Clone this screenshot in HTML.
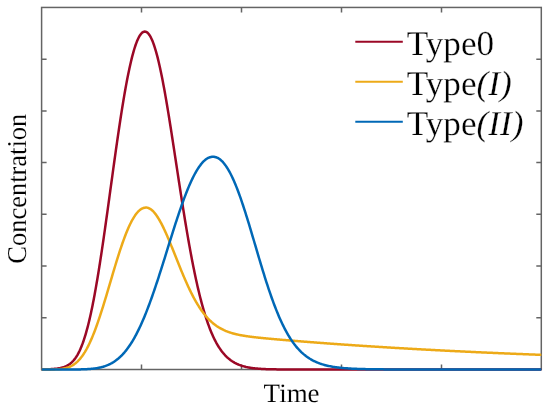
<!DOCTYPE html>
<html><head><meta charset="utf-8"><style>
html,body{margin:0;padding:0;background:#fff;}
body{width:550px;height:408px;overflow:hidden;position:relative;}
svg{position:absolute;left:0;top:0;}
text{font-family:"Liberation Serif",serif;fill:#000;text-rendering:geometricPrecision;stroke:#fff;stroke-width:0.12px;}
.lg text{stroke-width:0.25px;}
svg{will-change:transform;}
</style></head><body>
<svg width="550" height="408" viewBox="0 0 550 408">
<defs><clipPath id="c"><rect x="41.6" y="0" width="499.70" height="400"/></clipPath></defs>
<rect x="0" y="0" width="550" height="408" fill="#fff"/>
<path d="M141.5,369.5 V364.5 M141.5,7.45 V12.45 M241.5,369.5 V364.5 M241.5,7.45 V12.45 M341.5,369.5 V364.5 M341.5,7.45 V12.45 M441.5,369.5 V364.5 M441.5,7.45 V12.45 M41.6,317.78 H46.6 M541.3,317.78 H536.3 M41.6,266.06 H46.6 M541.3,266.06 H536.3 M41.6,214.34 H46.6 M541.3,214.34 H536.3 M41.6,162.61 H46.6 M541.3,162.61 H536.3 M41.6,110.89 H46.6 M541.3,110.89 H536.3 M41.6,59.17 H46.6 M541.3,59.17 H536.3 " stroke="#646464" stroke-width="1.5" fill="none"/>
<rect x="41.6" y="7.45" width="499.69999999999993" height="362.05" fill="none" stroke="#646464" stroke-width="1.5"/>
<g clip-path="url(#c)">
<path d="M41.50,369.50 L41.50,369.47 L41.50,369.47 L41.50,369.46 L41.50,369.46 L41.50,369.46 L41.50,369.45 L41.50,369.45 L41.50,369.44 L41.50,369.44 L41.50,369.43 L41.50,369.43 L41.50,369.42 L41.50,369.41 L41.50,369.40 L41.50,369.39 L41.55,369.38 L42.24,369.37 L42.92,369.36 L43.59,369.35 L44.25,369.34 L44.91,369.32 L45.56,369.31 L46.20,369.29 L46.83,369.27 L47.46,369.25 L48.08,369.23 L48.69,369.21 L49.30,369.18 L49.90,369.16 L50.49,369.13 L51.08,369.10 L51.66,369.06 L52.24,369.03 L52.81,368.99 L53.37,368.95 L53.93,368.90 L54.49,368.85 L55.04,368.80 L55.58,368.75 L56.12,368.69 L56.66,368.62 L57.19,368.56 L57.71,368.48 L58.23,368.41 L58.75,368.32 L59.27,368.23 L59.78,368.14 L60.29,368.04 L60.79,367.93 L61.29,367.81 L61.79,367.69 L62.28,367.56 L62.77,367.42 L63.26,367.27 L63.75,367.11 L64.23,366.95 L64.71,366.77 L65.19,366.58 L65.67,366.38 L66.14,366.16 L66.61,365.94 L67.08,365.69 L67.55,365.44 L68.02,365.17 L68.49,364.89 L68.95,364.58 L69.41,364.26 L69.88,363.93 L70.34,363.57 L70.80,363.19 L71.26,362.80 L71.72,362.38 L72.18,361.94 L72.63,361.47 L73.09,360.99 L73.55,360.47 L74.01,359.93 L74.46,359.36 L74.92,358.76 L75.38,358.14 L75.83,357.48 L76.29,356.79 L76.75,356.06 L77.21,355.31 L77.67,354.51 L78.13,353.68 L78.59,352.81 L79.05,351.90 L79.51,350.96 L79.97,349.96 L80.43,348.93 L80.90,347.85 L81.36,346.73 L81.83,345.55 L82.30,344.33 L82.77,343.06 L83.24,341.74 L83.71,340.37 L84.19,338.94 L84.66,337.46 L85.14,335.92 L85.62,334.33 L86.10,332.67 L86.58,330.96 L87.07,329.19 L87.55,327.35 L88.04,325.45 L88.53,323.49 L89.03,321.46 L89.52,319.37 L90.02,317.21 L90.52,314.99 L91.02,312.69 L91.52,310.33 L92.03,307.90 L92.54,305.39 L93.05,302.82 L93.57,300.18 L94.08,297.47 L94.60,294.68 L95.12,291.82 L95.65,288.90 L96.17,285.90 L96.70,282.83 L97.24,279.69 L97.77,276.49 L98.31,273.21 L98.85,269.86 L99.39,266.45 L99.94,262.97 L100.49,259.42 L101.04,255.81 L101.60,252.14 L102.15,248.40 L102.71,244.60 L103.28,240.75 L103.84,236.84 L104.41,232.88 L104.99,228.86 L105.56,224.79 L106.14,220.68 L106.72,216.52 L107.31,212.32 L107.89,208.08 L108.48,203.80 L109.08,199.49 L109.67,195.15 L110.27,190.78 L110.87,186.39 L111.48,181.99 L112.09,177.56 L112.70,173.12 L113.31,168.68 L113.93,164.23 L114.55,159.78 L115.17,155.34 L115.79,150.90 L116.42,146.48 L117.05,142.08 L117.68,137.70 L118.32,133.34 L118.96,129.02 L119.60,124.73 L120.24,120.49 L120.89,116.29 L121.54,112.14 L122.19,108.04 L122.85,104.01 L123.50,100.04 L124.16,96.14 L124.82,92.31 L125.49,88.57 L126.15,84.90 L126.82,81.33 L127.49,77.84 L128.16,74.46 L128.84,71.17 L129.52,67.99 L130.20,64.92 L130.88,61.97 L131.56,59.13 L132.24,56.41 L132.93,53.82 L133.62,51.35 L134.31,49.02 L135.00,46.83 L135.69,44.77 L136.39,42.85 L137.09,41.07 L137.78,39.44 L138.48,37.96 L139.18,36.63 L139.88,35.45 L140.59,34.43 L141.29,33.56 L141.99,32.85 L142.70,32.29 L143.40,31.89 L144.11,31.66 L144.82,31.58 L145.52,31.66 L146.23,31.89 L146.93,32.29 L147.64,32.85 L148.34,33.56 L149.03,34.43 L149.73,35.45 L150.43,36.63 L151.12,37.96 L151.82,39.44 L152.51,41.07 L153.20,42.85 L153.89,44.77 L154.58,46.83 L155.27,49.02 L155.95,51.35 L156.64,53.82 L157.33,56.41 L158.01,59.13 L158.69,61.97 L159.38,64.92 L160.06,67.99 L160.74,71.17 L161.42,74.46 L162.10,77.84 L162.78,81.33 L163.46,84.90 L164.14,88.57 L164.82,92.31 L165.49,96.14 L166.17,100.04 L166.85,104.01 L167.52,108.04 L168.20,112.14 L168.88,116.29 L169.55,120.49 L170.23,124.73 L170.90,129.02 L171.58,133.34 L172.25,137.70 L172.93,142.08 L173.60,146.48 L174.28,150.90 L174.95,155.34 L175.63,159.78 L176.31,164.23 L176.98,168.68 L177.66,173.12 L178.33,177.56 L179.01,181.99 L179.69,186.39 L180.36,190.78 L181.04,195.15 L181.72,199.49 L182.40,203.80 L183.07,208.08 L183.75,212.32 L184.43,216.52 L185.11,220.68 L185.79,224.79 L186.47,228.86 L187.15,232.88 L187.84,236.84 L188.52,240.75 L189.20,244.60 L189.89,248.40 L190.57,252.14 L191.25,255.81 L191.94,259.42 L192.63,262.97 L193.31,266.45 L194.00,269.86 L194.69,273.21 L195.38,276.49 L196.07,279.69 L196.76,282.83 L197.45,285.90 L198.14,288.90 L198.84,291.82 L199.53,294.68 L200.23,297.47 L200.92,300.18 L201.62,302.82 L202.32,305.39 L203.02,307.90 L203.72,310.33 L204.42,312.69 L205.12,314.99 L205.82,317.21 L206.53,319.37 L207.23,321.46 L207.94,323.49 L208.64,325.45 L209.35,327.35 L210.06,329.19 L210.77,330.96 L211.48,332.67 L212.19,334.33 L212.90,335.92 L213.62,337.46 L214.33,338.94 L215.05,340.37 L215.77,341.74 L216.48,343.06 L217.20,344.33 L217.92,345.55 L218.64,346.73 L219.37,347.85 L220.09,348.93 L220.81,349.96 L221.54,350.96 L222.27,351.90 L222.99,352.81 L223.72,353.68 L224.45,354.51 L225.18,355.31 L225.92,356.06 L226.65,356.79 L227.38,357.48 L228.12,358.14 L228.86,358.76 L229.59,359.36 L230.33,359.93 L231.07,360.47 L231.81,360.99 L232.55,361.47 L233.30,361.94 L234.04,362.38 L234.78,362.80 L235.53,363.19 L236.28,363.57 L237.02,363.93 L237.77,364.26 L238.52,364.58 L239.27,364.89 L240.02,365.17 L240.78,365.44 L241.53,365.69 L242.28,365.94 L243.04,366.16 L243.79,366.38 L244.55,366.58 L245.31,366.77 L246.06,366.95 L246.82,367.11 L247.58,367.27 L248.34,367.42 L249.11,367.56 L249.87,367.69 L250.63,367.81 L251.39,367.93 L252.16,368.04 L252.92,368.14 L253.69,368.23 L254.45,368.32 L255.22,368.41 L255.99,368.48 L256.75,368.56 L257.52,368.62 L258.29,368.69 L259.06,368.75 L259.83,368.80 L260.60,368.85 L261.37,368.90 L262.14,368.95 L262.91,368.99 L263.68,369.03 L264.46,369.06 L265.23,369.10 L266.00,369.13 L266.77,369.16 L267.55,369.18 L268.32,369.21 L269.09,369.23 L269.87,369.25 L270.64,369.27 L271.41,369.29 L272.19,369.31 L272.96,369.32 L273.73,369.34 L274.51,369.35 L275.28,369.36 L276.05,369.37 L276.82,369.38 L277.60,369.39 L278.37,369.40 L279.14,369.41 L279.91,369.42 L280.68,369.43 L281.45,369.43 L282.22,369.44 L282.99,369.44 L283.76,369.45 L284.53,369.45 L285.30,369.46 L286.07,369.46 L286.84,369.46 L287.60,369.47 L288.37,369.47 L541.50,369.50" fill="none" stroke="#9B0826" stroke-width="2.5" stroke-linejoin="round" stroke-linecap="round"/>
<path d="M41.50,369.50 L46.11,369.50 L46.44,369.50 L46.77,369.50 L47.10,369.49 L47.45,369.49 L47.81,369.49 L48.17,369.49 L48.54,369.49 L48.92,369.49 L49.31,369.49 L49.70,369.48 L50.11,369.48 L50.52,369.48 L50.94,369.47 L51.37,369.47 L51.80,369.46 L52.25,369.45 L52.70,369.45 L53.17,369.44 L53.64,369.43 L54.12,369.41 L54.60,369.40 L55.10,369.38 L55.61,369.36 L56.12,369.34 L56.64,369.32 L57.17,369.29 L57.71,369.26 L58.26,369.22 L58.81,369.18 L59.38,369.13 L59.95,369.08 L60.53,369.02 L61.12,368.95 L61.72,368.87 L62.33,368.79 L62.95,368.69 L63.57,368.58 L64.20,368.46 L64.85,368.32 L65.50,368.17 L66.16,368.00 L66.83,367.80 L67.51,367.59 L68.19,367.36 L68.89,367.10 L69.59,366.81 L70.30,366.49 L71.03,366.14 L71.76,365.76 L72.50,365.34 L73.25,364.88 L74.00,364.37 L74.77,363.82 L75.55,363.21 L76.33,362.56 L77.12,361.85 L77.93,361.07 L78.74,360.24 L79.56,359.34 L80.39,358.36 L81.23,357.31 L82.08,356.19 L82.93,354.98 L83.80,353.68 L84.68,352.30 L85.56,350.83 L86.46,349.26 L87.36,347.59 L88.27,345.82 L89.19,343.94 L90.12,341.96 L91.06,339.88 L92.01,337.68 L92.97,335.37 L93.94,332.96 L94.92,330.43 L95.91,327.79 L96.90,325.04 L97.91,322.18 L98.92,319.22 L99.95,316.15 L100.98,312.98 L102.02,309.72 L103.08,306.37 L104.14,302.92 L105.21,299.40 L106.29,295.81 L107.38,292.15 L108.49,288.44 L109.60,284.68 L110.72,280.88 L111.84,277.05 L112.98,273.20 L114.13,269.35 L115.29,265.50 L116.46,261.68 L117.64,257.88 L118.82,254.13 L120.02,250.43 L121.23,246.81 L122.44,243.26 L123.67,239.82 L124.91,236.49 L126.15,233.28 L127.41,230.21 L128.67,227.28 L129.95,224.52 L131.24,221.94 L132.53,219.53 L133.84,217.33 L135.15,215.32 L136.48,213.53 L137.81,211.97 L139.16,210.63 L140.51,209.53 L141.88,208.66 L143.25,208.04 L144.64,207.67 L146.03,207.55 L146.53,207.57 L147.03,207.63 L147.53,207.73 L148.03,207.87 L148.53,208.05 L149.03,208.26 L149.53,208.51 L150.03,208.79 L150.53,209.11 L151.03,209.46 L151.53,209.85 L152.03,210.27 L152.53,210.72 L153.03,211.21 L153.53,211.73 L154.03,212.28 L154.53,212.86 L155.03,213.47 L155.53,214.11 L156.03,214.78 L156.53,215.48 L157.03,216.21 L157.53,216.96 L158.03,217.75 L158.53,218.55 L159.03,219.39 L159.53,220.25 L160.03,221.13 L160.53,222.03 L161.03,222.96 L161.53,223.91 L162.03,224.89 L162.53,225.88 L163.03,226.89 L163.53,227.92 L164.03,228.97 L164.53,230.03 L165.03,231.12 L165.53,232.22 L166.03,233.33 L166.53,234.46 L167.03,235.60 L167.53,236.75 L168.03,237.92 L168.53,239.10 L169.03,240.28 L169.53,241.48 L170.03,242.69 L170.53,243.90 L171.03,245.12 L171.53,246.35 L172.03,247.58 L172.53,248.82 L173.03,250.06 L173.53,251.31 L174.03,252.56 L174.53,253.81 L175.03,255.06 L175.53,256.32 L176.03,257.57 L176.53,258.82 L177.03,260.07 L177.53,261.32 L178.03,262.57 L178.53,263.81 L179.03,265.05 L179.53,266.29 L180.03,267.52 L180.53,268.75 L181.03,269.97 L181.53,271.18 L182.03,272.38 L182.53,273.58 L183.03,274.77 L183.53,275.96 L184.03,277.13 L184.53,278.30 L185.03,279.45 L185.53,280.59 L186.03,281.73 L186.53,282.85 L187.03,283.96 L187.53,285.07 L188.03,286.16 L188.53,287.23 L189.03,288.30 L189.53,289.35 L190.03,290.39 L190.53,291.42 L191.03,292.43 L191.53,293.43 L192.03,294.42 L192.53,295.39 L193.03,296.35 L193.53,297.29 L194.03,298.23 L194.53,299.14 L195.03,300.04 L195.53,300.93 L196.03,301.81 L196.53,302.67 L197.03,303.51 L197.53,304.34 L198.03,305.16 L198.53,305.96 L199.03,306.75 L199.53,307.52 L200.03,308.28 L200.53,309.02 L201.03,309.75 L201.53,310.46 L202.03,311.16 L202.53,311.85 L203.03,312.52 L203.53,313.18 L204.03,313.83 L204.53,314.46 L205.03,315.08 L205.53,315.68 L206.03,316.27 L206.53,316.85 L207.03,317.42 L207.53,317.97 L208.03,318.51 L208.53,319.04 L209.03,319.55 L209.53,320.05 L210.03,320.54 L210.53,321.02 L211.03,321.49 L211.53,321.94 L212.03,322.39 L212.53,322.82 L213.03,323.25 L213.53,323.66 L214.03,324.06 L214.53,324.45 L215.03,324.83 L215.53,325.20 L216.03,325.56 L216.53,325.92 L217.03,326.26 L217.53,326.59 L218.03,326.92 L218.53,327.23 L219.03,327.54 L219.53,327.84 L220.03,328.13 L220.53,328.41 L221.03,328.69 L221.53,328.96 L222.03,329.22 L222.53,329.47 L223.03,329.71 L223.53,329.95 L224.03,330.19 L224.53,330.41 L225.03,330.63 L225.53,330.85 L226.03,331.05 L226.53,331.26 L227.03,331.45 L227.53,331.64 L228.03,331.83 L228.53,332.01 L229.03,332.19 L229.53,332.36 L230.03,332.52 L230.53,332.68 L231.03,332.84 L231.53,332.99 L232.03,333.14 L232.53,333.29 L233.03,333.43 L233.53,333.56 L234.03,333.70 L234.53,333.83 L235.03,333.95 L235.53,334.08 L236.03,334.20 L236.53,334.31 L237.03,334.43 L237.53,334.54 L238.03,334.65 L238.53,334.75 L239.03,334.86 L239.53,334.96 L240.03,335.06 L240.53,335.15 L241.03,335.25 L241.53,335.34 L242.03,335.43 L242.53,335.52 L243.03,335.60 L243.53,335.69 L244.03,335.77 L244.53,335.85 L245.03,335.93 L245.53,336.01 L246.03,336.08 L246.53,336.16 L247.03,336.23 L247.53,336.30 L248.03,336.37 L248.53,336.44 L249.03,336.51 L249.53,336.58 L250.03,336.64 L250.53,336.71 L251.03,336.77 L251.53,336.84 L252.03,336.90 L252.53,336.96 L253.03,337.02 L253.53,337.08 L254.03,337.14 L254.53,337.20 L255.03,337.25 L255.53,337.31 L256.03,337.37 L256.53,337.42 L257.03,337.48 L257.53,337.53 L258.03,337.59 L258.53,337.64 L259.03,337.69 L259.53,337.75 L260.03,337.80 L260.53,337.85 L261.03,337.90 L261.53,337.95 L262.03,338.00 L262.53,338.05 L263.03,338.10 L263.53,338.15 L264.03,338.20 L264.53,338.25 L265.03,338.30 L265.53,338.34 L266.03,338.39 L266.53,338.44 L267.03,338.49 L267.53,338.53 L268.03,338.58 L268.53,338.63 L269.03,338.67 L269.53,338.72 L270.03,338.77 L270.53,338.81 L271.03,338.86 L271.53,338.90 L272.03,338.95 L272.53,338.99 L273.03,339.04 L273.53,339.08 L274.03,339.13 L274.53,339.17 L275.03,339.22 L275.53,339.26 L276.03,339.30 L276.53,339.35 L277.03,339.39 L277.53,339.44 L278.03,339.48 L278.53,339.52 L279.03,339.57 L279.53,339.61 L280.03,339.65 L280.53,339.70 L281.03,339.74 L281.53,339.78 L282.03,339.82 L282.53,339.87 L283.03,339.91 L283.53,339.95 L284.03,339.99 L284.53,340.04 L285.03,340.08 L285.53,340.12 L286.03,340.16 L286.53,340.20 L287.03,340.25 L287.53,340.29 L288.03,340.33 L288.53,340.37 L289.03,340.41 L289.53,340.45 L290.03,340.50 L290.53,340.54 L291.03,340.58 L291.53,340.62 L292.03,340.66 L292.53,340.70 L293.03,340.74 L293.53,340.78 L294.03,340.82 L294.53,340.86 L295.03,340.91 L295.53,340.95 L296.03,340.99 L296.53,341.03 L297.03,341.07 L297.53,341.11 L298.03,341.15 L298.53,341.19 L299.03,341.23 L299.53,341.27 L300.03,341.31 L300.53,341.35 L301.03,341.39 L301.53,341.43 L302.03,341.47 L302.53,341.51 L303.03,341.55 L303.53,341.59 L304.03,341.63 L304.53,341.67 L305.03,341.70 L305.53,341.74 L306.03,341.78 L306.53,341.82 L307.03,341.86 L307.53,341.90 L308.03,341.94 L308.53,341.98 L309.03,342.02 L309.53,342.06 L310.03,342.10 L310.53,342.13 L311.03,342.17 L311.53,342.21 L312.03,342.25 L312.53,342.29 L313.03,342.33 L313.53,342.36 L314.03,342.40 L314.53,342.44 L315.03,342.48 L315.53,342.52 L316.03,342.56 L316.53,342.59 L317.03,342.63 L317.53,342.67 L318.03,342.71 L318.53,342.74 L319.03,342.78 L319.53,342.82 L320.03,342.86 L320.53,342.89 L321.03,342.93 L321.53,342.97 L322.03,343.01 L322.53,343.04 L323.03,343.08 L323.53,343.12 L324.03,343.16 L324.53,343.19 L325.03,343.23 L325.53,343.27 L326.03,343.30 L326.53,343.34 L327.03,343.38 L327.53,343.41 L328.03,343.45 L328.53,343.49 L329.03,343.52 L329.53,343.56 L330.03,343.60 L330.53,343.63 L331.03,343.67 L331.53,343.71 L332.03,343.74 L332.53,343.78 L333.03,343.81 L333.53,343.85 L334.03,343.89 L334.53,343.92 L335.03,343.96 L335.53,343.99 L336.03,344.03 L336.53,344.06 L337.03,344.10 L337.53,344.14 L338.03,344.17 L338.53,344.21 L339.03,344.24 L339.53,344.28 L340.03,344.31 L340.53,344.35 L341.03,344.38 L341.53,344.42 L342.03,344.45 L342.53,344.49 L343.03,344.52 L343.53,344.56 L344.03,344.59 L344.53,344.63 L345.03,344.66 L345.53,344.70 L346.03,344.73 L346.53,344.77 L347.03,344.80 L347.53,344.84 L348.03,344.87 L348.53,344.90 L349.03,344.94 L349.53,344.97 L350.03,345.01 L350.53,345.04 L351.03,345.07 L351.53,345.11 L352.03,345.14 L352.53,345.18 L353.03,345.21 L353.53,345.24 L354.03,345.28 L354.53,345.31 L355.03,345.35 L355.53,345.38 L356.03,345.41 L356.53,345.45 L357.03,345.48 L357.53,345.51 L358.03,345.55 L358.53,345.58 L359.03,345.61 L359.53,345.65 L360.03,345.68 L360.53,345.71 L361.03,345.75 L361.53,345.78 L362.03,345.81 L362.53,345.84 L363.03,345.88 L363.53,345.91 L364.03,345.94 L364.53,345.98 L365.03,346.01 L365.53,346.04 L366.03,346.07 L366.53,346.11 L367.03,346.14 L367.53,346.17 L368.03,346.20 L368.53,346.24 L369.03,346.27 L369.53,346.30 L370.03,346.33 L370.53,346.36 L371.03,346.40 L371.53,346.43 L372.03,346.46 L372.53,346.49 L373.03,346.52 L373.53,346.56 L374.03,346.59 L374.53,346.62 L375.03,346.65 L375.53,346.68 L376.03,346.71 L376.53,346.74 L377.03,346.78 L377.53,346.81 L378.03,346.84 L378.53,346.87 L379.03,346.90 L379.53,346.93 L380.03,346.96 L380.53,346.99 L381.03,347.03 L381.53,347.06 L382.03,347.09 L382.53,347.12 L383.03,347.15 L383.53,347.18 L384.03,347.21 L384.53,347.24 L385.03,347.27 L385.53,347.30 L386.03,347.33 L386.53,347.36 L387.03,347.39 L387.53,347.43 L388.03,347.46 L388.53,347.49 L389.03,347.52 L389.53,347.55 L390.03,347.58 L390.53,347.61 L391.03,347.64 L391.53,347.67 L392.03,347.70 L392.53,347.73 L393.03,347.76 L393.53,347.79 L394.03,347.82 L394.53,347.85 L395.03,347.88 L395.53,347.91 L396.03,347.94 L396.53,347.96 L397.03,347.99 L397.53,348.02 L398.03,348.05 L398.53,348.08 L399.03,348.11 L399.53,348.14 L400.03,348.17 L400.53,348.20 L401.03,348.23 L401.53,348.26 L402.03,348.29 L402.53,348.32 L403.03,348.34 L403.53,348.37 L404.03,348.40 L404.53,348.43 L405.03,348.46 L405.53,348.49 L406.03,348.52 L406.53,348.55 L407.03,348.58 L407.53,348.60 L408.03,348.63 L408.53,348.66 L409.03,348.69 L409.53,348.72 L410.03,348.75 L410.53,348.77 L411.03,348.80 L411.53,348.83 L412.03,348.86 L412.53,348.89 L413.03,348.92 L413.53,348.94 L414.03,348.97 L414.53,349.00 L415.03,349.03 L415.53,349.06 L416.03,349.08 L416.53,349.11 L417.03,349.14 L417.53,349.17 L418.03,349.19 L418.53,349.22 L419.03,349.25 L419.53,349.28 L420.03,349.30 L420.53,349.33 L421.03,349.36 L421.53,349.39 L422.03,349.41 L422.53,349.44 L423.03,349.47 L423.53,349.50 L424.03,349.52 L424.53,349.55 L425.03,349.58 L425.53,349.60 L426.03,349.63 L426.53,349.66 L427.03,349.68 L427.53,349.71 L428.03,349.74 L428.53,349.76 L429.03,349.79 L429.53,349.82 L430.03,349.84 L430.53,349.87 L431.03,349.90 L431.53,349.92 L432.03,349.95 L432.53,349.98 L433.03,350.00 L433.53,350.03 L434.03,350.06 L434.53,350.08 L435.03,350.11 L435.53,350.14 L436.03,350.16 L436.53,350.19 L437.03,350.21 L437.53,350.24 L438.03,350.27 L438.53,350.29 L439.03,350.32 L439.53,350.34 L440.03,350.37 L440.53,350.39 L441.03,350.42 L441.53,350.45 L442.03,350.47 L442.53,350.50 L443.03,350.52 L443.53,350.55 L444.03,350.57 L444.53,350.60 L445.03,350.63 L445.53,350.65 L446.03,350.68 L446.53,350.70 L447.03,350.73 L447.53,350.75 L448.03,350.78 L448.53,350.80 L449.03,350.83 L449.53,350.85 L450.03,350.88 L450.53,350.90 L451.03,350.93 L451.53,350.95 L452.03,350.98 L452.53,351.00 L453.03,351.03 L453.53,351.05 L454.03,351.08 L454.53,351.10 L455.03,351.13 L455.53,351.15 L456.03,351.17 L456.53,351.20 L457.03,351.22 L457.53,351.25 L458.03,351.27 L458.53,351.30 L459.03,351.32 L459.53,351.35 L460.03,351.37 L460.53,351.39 L461.03,351.42 L461.53,351.44 L462.03,351.47 L462.53,351.49 L463.03,351.51 L463.53,351.54 L464.03,351.56 L464.53,351.59 L465.03,351.61 L465.53,351.63 L466.03,351.66 L466.53,351.68 L467.03,351.71 L467.53,351.73 L468.03,351.75 L468.53,351.78 L469.03,351.80 L469.53,351.82 L470.03,351.85 L470.53,351.87 L471.03,351.89 L471.53,351.92 L472.03,351.94 L472.53,351.96 L473.03,351.99 L473.53,352.01 L474.03,352.03 L474.53,352.06 L475.03,352.08 L475.53,352.10 L476.03,352.13 L476.53,352.15 L477.03,352.17 L477.53,352.20 L478.03,352.22 L478.53,352.24 L479.03,352.26 L479.53,352.29 L480.03,352.31 L480.53,352.33 L481.03,352.36 L481.53,352.38 L482.03,352.40 L482.53,352.42 L483.03,352.45 L483.53,352.47 L484.03,352.49 L484.53,352.51 L485.03,352.54 L485.53,352.56 L486.03,352.58 L486.53,352.60 L487.03,352.63 L487.53,352.65 L488.03,352.67 L488.53,352.69 L489.03,352.71 L489.53,352.74 L490.03,352.76 L490.53,352.78 L491.03,352.80 L491.53,352.82 L492.03,352.85 L492.53,352.87 L493.03,352.89 L493.53,352.91 L494.03,352.93 L494.53,352.96 L495.03,352.98 L495.53,353.00 L496.03,353.02 L496.53,353.04 L497.03,353.06 L497.53,353.09 L498.03,353.11 L498.53,353.13 L499.03,353.15 L499.53,353.17 L500.03,353.19 L500.53,353.21 L501.03,353.24 L501.53,353.26 L502.03,353.28 L502.53,353.30 L503.03,353.32 L503.53,353.34 L504.03,353.36 L504.53,353.38 L505.03,353.41 L505.53,353.43 L506.03,353.45 L506.53,353.47 L507.03,353.49 L507.53,353.51 L508.03,353.53 L508.53,353.55 L509.03,353.57 L509.53,353.59 L510.03,353.61 L510.53,353.64 L511.03,353.66 L511.53,353.68 L512.03,353.70 L512.53,353.72 L513.03,353.74 L513.53,353.76 L514.03,353.78 L514.53,353.80 L515.03,353.82 L515.53,353.84 L516.03,353.86 L516.53,353.88 L517.03,353.90 L517.53,353.92 L518.03,353.94 L518.53,353.96 L519.03,353.98 L519.53,354.00 L520.03,354.02 L520.53,354.04 L521.03,354.06 L521.53,354.08 L522.03,354.10 L522.53,354.12 L523.03,354.14 L523.53,354.16 L524.03,354.18 L524.53,354.20 L525.03,354.22 L525.53,354.24 L526.03,354.26 L526.53,354.28 L527.03,354.30 L527.53,354.32 L528.03,354.34 L528.53,354.36 L529.03,354.38 L529.53,354.40 L530.03,354.42 L530.53,354.44 L531.03,354.46 L531.53,354.48 L532.03,354.50 L532.53,354.52 L533.03,354.54 L533.53,354.55 L534.03,354.57 L534.53,354.59 L535.03,354.61 L535.53,354.63 L536.03,354.65 L536.53,354.67 L537.03,354.69 L537.53,354.71 L538.03,354.73 L538.53,354.75 L539.03,354.76 L539.53,354.78 L540.03,354.80 L540.53,354.82 L541.03,354.84" fill="none" stroke="#EDAA18" stroke-width="2.5" stroke-linejoin="round" stroke-linecap="round"/>
<path d="M41.50,369.50 L74.23,369.47 L74.60,369.47 L74.98,369.46 L75.36,369.46 L75.75,369.46 L76.14,369.45 L76.53,369.45 L76.93,369.44 L77.33,369.44 L77.74,369.43 L78.15,369.43 L78.56,369.42 L78.98,369.42 L79.40,369.41 L79.82,369.40 L80.25,369.39 L80.68,369.38 L81.12,369.37 L81.56,369.36 L82.00,369.35 L82.45,369.34 L82.90,369.32 L83.35,369.31 L83.81,369.29 L84.27,369.28 L84.74,369.26 L85.21,369.24 L85.68,369.22 L86.16,369.19 L86.64,369.17 L87.12,369.14 L87.61,369.12 L88.10,369.09 L88.60,369.06 L89.09,369.02 L89.60,368.98 L90.10,368.94 L90.61,368.90 L91.12,368.86 L91.64,368.81 L92.16,368.76 L92.68,368.70 L93.21,368.65 L93.74,368.58 L94.28,368.52 L94.81,368.45 L95.35,368.37 L95.90,368.29 L96.45,368.21 L97.00,368.12 L97.55,368.02 L98.11,367.92 L98.67,367.81 L99.24,367.70 L99.81,367.58 L100.38,367.45 L100.95,367.32 L101.53,367.17 L102.11,367.02 L102.70,366.86 L103.29,366.69 L103.88,366.51 L104.48,366.32 L105.08,366.12 L105.68,365.91 L106.28,365.68 L106.89,365.45 L107.50,365.20 L108.12,364.94 L108.74,364.66 L109.36,364.37 L109.98,364.07 L110.61,363.75 L111.24,363.42 L111.88,363.07 L112.51,362.70 L113.16,362.31 L113.80,361.90 L114.45,361.48 L115.10,361.03 L115.75,360.57 L116.41,360.08 L117.07,359.57 L117.73,359.04 L118.40,358.49 L119.06,357.91 L119.74,357.30 L120.41,356.67 L121.09,356.02 L121.77,355.33 L122.46,354.62 L123.14,353.88 L123.83,353.11 L124.53,352.31 L125.22,351.48 L125.92,350.61 L126.62,349.72 L127.33,348.79 L128.04,347.83 L128.75,346.83 L129.46,345.80 L130.18,344.73 L130.90,343.62 L131.62,342.48 L132.35,341.30 L133.08,340.08 L133.81,338.82 L134.54,337.52 L135.28,336.19 L136.02,334.81 L136.76,333.39 L137.51,331.93 L138.26,330.43 L139.01,328.89 L139.76,327.30 L140.52,325.67 L141.28,324.00 L142.04,322.29 L142.81,320.54 L143.57,318.74 L144.34,316.90 L145.12,315.02 L145.89,313.09 L146.67,311.13 L147.45,309.12 L148.24,307.07 L149.02,304.98 L149.81,302.85 L150.61,300.69 L151.40,298.48 L152.20,296.23 L153.00,293.95 L153.80,291.63 L154.61,289.28 L155.41,286.89 L156.22,284.47 L157.04,282.02 L157.85,279.53 L158.67,277.02 L159.49,274.48 L160.31,271.92 L161.14,269.33 L161.97,266.71 L162.80,264.08 L163.63,261.43 L164.47,258.76 L165.30,256.07 L166.14,253.37 L166.99,250.67 L167.83,247.95 L168.68,245.22 L169.53,242.49 L170.38,239.76 L171.24,237.03 L172.09,234.31 L172.95,231.59 L173.82,228.87 L174.68,226.17 L175.55,223.48 L176.42,220.81 L177.29,218.16 L178.16,215.53 L179.04,212.92 L179.91,210.34 L180.79,207.79 L181.68,205.27 L182.56,202.79 L183.45,200.34 L184.34,197.94 L185.23,195.58 L186.12,193.27 L187.02,191.01 L187.92,188.79 L188.82,186.64 L189.72,184.54 L190.63,182.50 L191.53,180.52 L192.44,178.60 L193.35,176.76 L194.27,174.98 L195.18,173.27 L196.10,171.64 L197.02,170.08 L197.94,168.61 L198.87,167.21 L199.79,165.89 L200.72,164.65 L201.65,163.50 L202.58,162.44 L203.52,161.46 L204.45,160.58 L205.39,159.78 L206.33,159.08 L207.27,158.46 L208.22,157.94 L209.16,157.52 L210.11,157.18 L211.06,156.94 L212.01,156.80 L212.97,156.75 L213.92,156.80 L214.86,156.94 L215.81,157.18 L216.74,157.52 L217.68,157.94 L218.61,158.46 L219.53,159.08 L220.45,159.78 L221.36,160.58 L222.27,161.46 L223.18,162.44 L224.08,163.50 L224.98,164.65 L225.87,165.89 L226.76,167.21 L227.65,168.61 L228.53,170.08 L229.41,171.64 L230.28,173.27 L231.15,174.98 L232.02,176.76 L232.89,178.60 L233.75,180.52 L234.60,182.50 L235.46,184.54 L236.31,186.64 L237.16,188.79 L238.00,191.01 L238.85,193.27 L239.69,195.58 L240.53,197.94 L241.36,200.34 L242.19,202.79 L243.02,205.27 L243.85,207.79 L244.68,210.34 L245.50,212.92 L246.32,215.53 L247.14,218.16 L247.96,220.81 L248.77,223.48 L249.58,226.17 L250.40,228.87 L251.21,231.59 L252.01,234.31 L252.82,237.03 L253.63,239.76 L254.43,242.49 L255.23,245.22 L256.04,247.95 L256.84,250.67 L257.64,253.37 L258.44,256.07 L259.23,258.76 L260.03,261.43 L260.83,264.08 L261.62,266.71 L262.42,269.33 L263.21,271.92 L264.01,274.48 L264.80,277.02 L265.60,279.53 L266.39,282.02 L267.18,284.47 L267.98,286.89 L268.77,289.28 L269.57,291.63 L270.36,293.95 L271.16,296.23 L271.95,298.48 L272.75,300.69 L273.54,302.85 L274.34,304.98 L275.14,307.07 L275.94,309.12 L276.74,311.13 L277.54,313.09 L278.34,315.02 L279.14,316.90 L279.95,318.74 L280.75,320.54 L281.56,322.29 L282.37,324.00 L283.18,325.67 L283.99,327.30 L284.80,328.89 L285.62,330.43 L286.43,331.93 L287.25,333.39 L288.07,334.81 L288.89,336.19 L289.72,337.52 L290.55,338.82 L291.38,340.08 L292.21,341.30 L293.04,342.48 L293.88,343.62 L294.72,344.73 L295.56,345.80 L296.41,346.83 L297.26,347.83 L298.11,348.79 L298.96,349.72 L299.82,350.61 L300.68,351.48 L301.54,352.31 L302.41,353.11 L303.28,353.88 L304.15,354.62 L305.03,355.33 L305.91,356.02 L306.80,356.67 L307.69,357.30 L308.58,357.91 L309.48,358.49 L310.38,359.04 L311.28,359.57 L312.19,360.08 L313.11,360.57 L314.03,361.03 L314.95,361.48 L315.88,361.90 L316.81,362.31 L317.74,362.70 L318.69,363.07 L319.63,363.42 L320.58,363.75 L321.54,364.07 L322.50,364.37 L323.47,364.66 L324.44,364.94 L325.42,365.20 L326.40,365.45 L327.39,365.68 L328.38,365.91 L329.38,366.12 L330.39,366.32 L331.40,366.51 L332.41,366.69 L333.44,366.86 L334.47,367.02 L335.50,367.17 L336.54,367.32 L337.59,367.45 L338.65,367.58 L339.71,367.70 L340.77,367.81 L341.85,367.92 L342.93,368.02 L344.02,368.12 L345.11,368.21 L346.21,368.29 L347.32,368.37 L348.43,368.45 L349.56,368.52 L350.69,368.58 L351.82,368.65 L352.97,368.70 L354.12,368.76 L355.28,368.81 L356.45,368.86 L357.62,368.90 L358.80,368.94 L360.00,368.98 L361.19,369.02 L362.40,369.06 L363.62,369.09 L364.84,369.12 L366.07,369.14 L367.31,369.17 L368.56,369.19 L369.82,369.22 L371.08,369.24 L372.36,369.26 L373.64,369.28 L374.93,369.29 L376.23,369.31 L377.54,369.32 L378.86,369.34 L380.19,369.35 L381.52,369.36 L382.87,369.37 L384.23,369.38 L385.59,369.39 L386.97,369.40 L388.35,369.41 L389.75,369.42 L391.15,369.42 L392.57,369.43 L393.99,369.43 L395.42,369.44 L396.87,369.44 L398.32,369.45 L399.79,369.45 L401.26,369.46 L402.75,369.46 L404.24,369.46 L405.75,369.47 L407.27,369.47 L541.50,369.50" fill="none" stroke="#0068B6" stroke-width="2.5" stroke-linejoin="round" stroke-linecap="round"/>
</g>


<line x1="355.3" y1="41.7" x2="402.8" y2="41.7" stroke="#9B0826" stroke-width="2.0"/>
<line x1="355.3" y1="81.7" x2="402.8" y2="81.7" stroke="#EDAA18" stroke-width="2.0"/>
<line x1="355.3" y1="121.7" x2="402.8" y2="121.7" stroke="#0068B6" stroke-width="2.0"/>
<g class="lg" font-size="34.8">
<text transform="translate(406.7,54.6) scale(1.0115,1)">Type0</text>
<text transform="translate(406.7,94.6) scale(1.0115,1)">Type<tspan font-style="italic">(I)</tspan></text>
<text transform="translate(406.7,134.6) scale(1.0115,1)">Type<tspan font-style="italic">(II)</tspan></text>
</g>


<text transform="translate(291.6,401.7) scale(1.014,1)" font-size="26.6" text-anchor="middle">Time</text>
<text transform="translate(26,188.7) rotate(-90) scale(0.996,1.025)" font-size="26.6" text-anchor="middle">Concentration</text>

</svg>
</body></html>
